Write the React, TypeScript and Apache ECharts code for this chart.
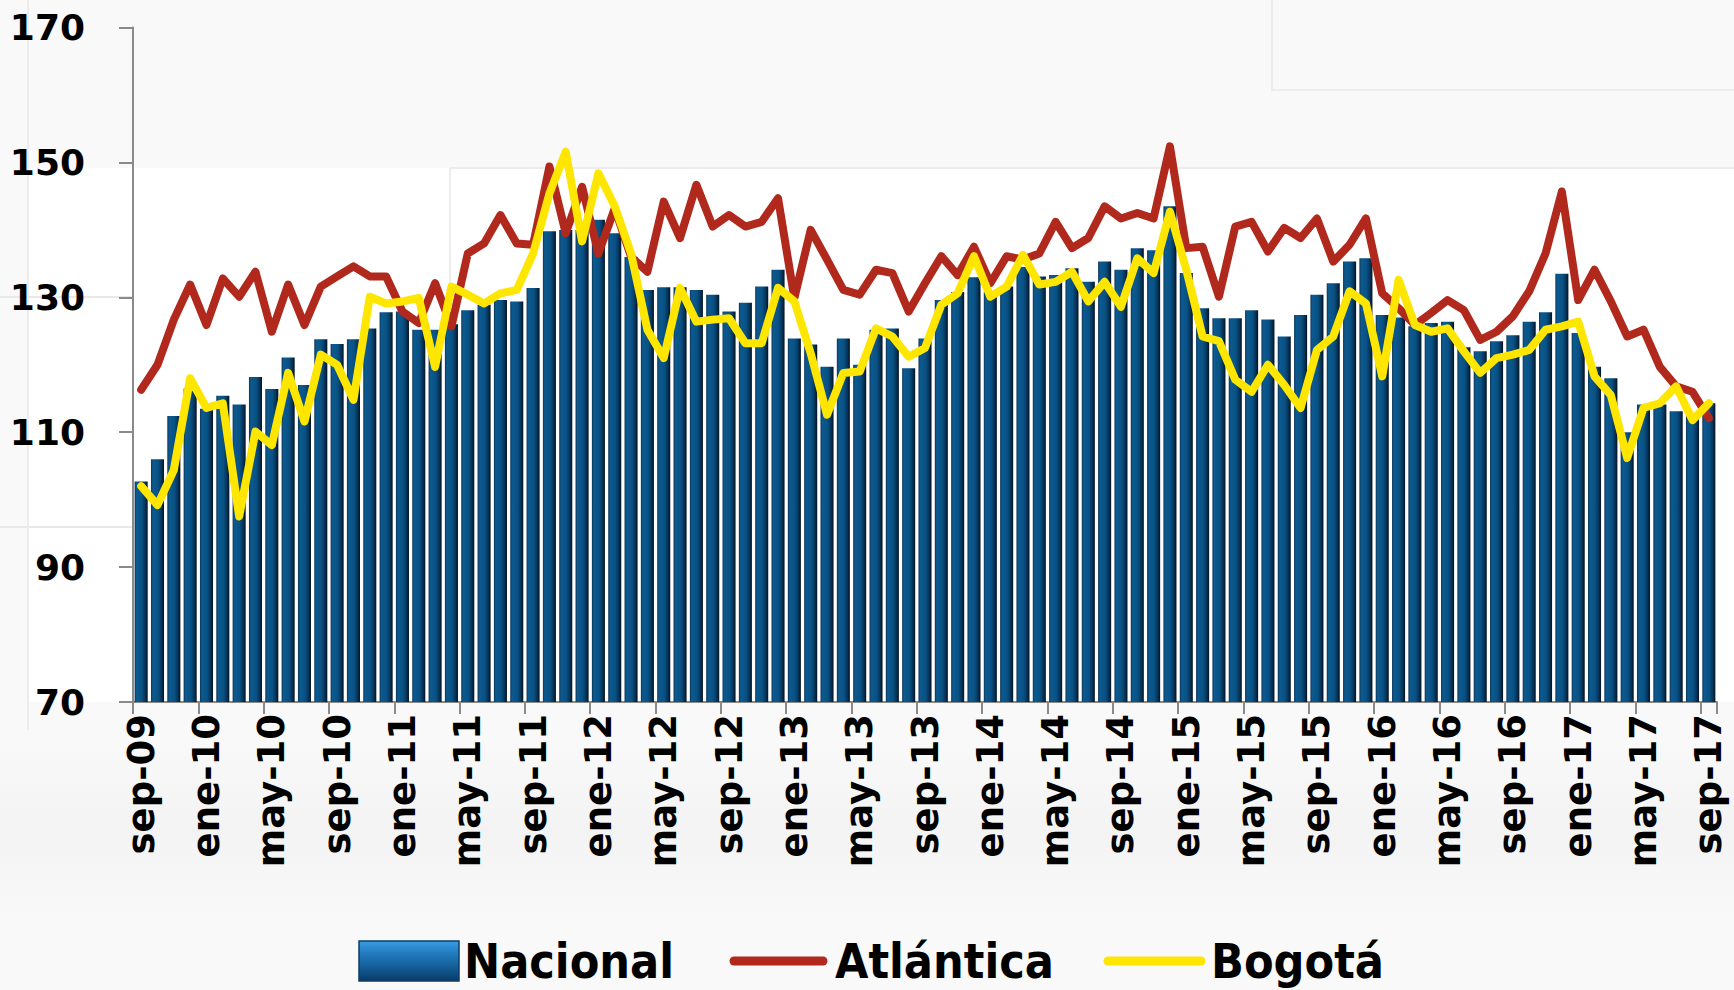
import React, { useEffect, useRef } from "react";
import * as echarts from "echarts";

const categories = [
  "sep-09","oct-09","nov-09","dic-09",
  "ene-10","feb-10","mar-10","abr-10","may-10","jun-10","jul-10","ago-10","sep-10","oct-10","nov-10","dic-10",
  "ene-11","feb-11","mar-11","abr-11","may-11","jun-11","jul-11","ago-11","sep-11","oct-11","nov-11","dic-11",
  "ene-12","feb-12","mar-12","abr-12","may-12","jun-12","jul-12","ago-12","sep-12","oct-12","nov-12","dic-12",
  "ene-13","feb-13","mar-13","abr-13","may-13","jun-13","jul-13","ago-13","sep-13","oct-13","nov-13","dic-13",
  "ene-14","feb-14","mar-14","abr-14","may-14","jun-14","jul-14","ago-14","sep-14","oct-14","nov-14","dic-14",
  "ene-15","feb-15","mar-15","abr-15","may-15","jun-15","jul-15","ago-15","sep-15","oct-15","nov-15","dic-15",
  "ene-16","feb-16","mar-16","abr-16","may-16","jun-16","jul-16","ago-16","sep-16","oct-16","nov-16","dic-16",
  "ene-17","feb-17","mar-17","abr-17","may-17","jun-17","jul-17","ago-17","sep-17",
];

const nacional = [
  102.7, 106.0, 112.4, 116.5, 113.5, 115.4, 114.1, 118.2, 116.4, 121.1, 117.0, 123.8, 123.1, 123.8, 125.4, 127.8,
  127.9, 125.2, 125.2, 126.0, 128.1, 128.9, 129.6, 129.4, 131.4, 139.8, 140.0, 140.0, 141.5, 139.5, 136.0, 131.1,
  131.5, 131.5, 131.1, 130.4, 127.9, 129.2, 131.6, 134.1, 123.9, 123.0, 119.7, 123.9, 120.0, 125.2, 125.4, 119.5,
  123.9, 129.6, 130.8, 133.0, 130.8, 131.6, 134.5, 133.1, 133.3, 134.3, 132.3, 135.3, 134.1, 137.3, 137.0, 143.5,
  133.6, 128.4, 126.9, 126.9, 128.1, 126.7, 124.2, 127.4, 130.4, 132.1, 135.3, 135.8, 127.4, 127.0, 125.7, 126.2,
  126.4, 122.6, 122.0, 123.5, 124.4, 126.4, 127.8, 133.5, 124.7, 119.7, 118.0, 110.0, 114.1, 114.1, 113.1, 112.8, 114.3,
];

const atlantica = [
  116.3, 120.0, 126.7, 131.9, 125.9, 132.8, 130.1, 133.8, 124.9, 131.9, 125.9, 131.6, 133.1, 134.6, 133.1, 133.1,
  127.9, 126.2, 132.1, 125.7, 136.5, 138.0, 142.2, 138.0, 137.8, 149.4, 139.5, 146.4, 136.5, 143.2, 136.0, 133.8,
  144.2, 138.8, 146.7, 140.5, 142.2, 140.5, 141.2, 144.7, 129.9, 140.0, 135.6, 131.1, 130.4, 134.1, 133.6, 127.9,
  132.1, 136.1, 133.3, 137.5, 132.1, 136.1, 135.6, 136.5, 141.2, 137.3, 138.8, 143.5, 141.7, 142.5, 141.7, 152.4,
  137.3, 137.5, 130.1, 140.5, 141.2, 136.8, 140.3, 138.8, 141.7, 135.3, 137.8, 141.7, 130.6, 128.4, 125.9, 127.7,
  129.6, 128.1, 123.7, 124.9, 127.2, 130.9, 136.5, 145.7, 129.6, 134.1, 129.4, 124.2, 125.2, 119.7, 116.8, 116.0, 112.1,
];

const bogota = [
  102.0, 99.2, 104.4, 118.0, 113.6, 114.3, 97.5, 110.1, 108.1, 118.8, 111.6, 121.5, 120.0, 114.8, 130.1, 129.1,
  129.4, 129.9, 119.7, 131.6, 130.4, 129.1, 130.6, 131.1, 136.5, 145.4, 151.6, 138.3, 148.4, 143.5, 136.5, 125.2,
  121.0, 131.4, 126.4, 126.7, 126.9, 123.2, 123.2, 131.4, 129.4, 121.7, 112.6, 118.8, 119.0, 125.4, 124.2, 121.2,
  122.5, 128.9, 130.6, 136.1, 130.1, 131.6, 136.3, 131.9, 132.3, 133.8, 129.4, 132.3, 128.6, 135.8, 133.6, 142.7,
  134.1, 124.2, 123.5, 117.8, 116.0, 120.0, 117.0, 113.6, 122.2, 124.2, 130.9, 129.1, 118.3, 132.6, 125.9, 124.9,
  125.4, 122.0, 118.8, 121.0, 121.5, 122.2, 125.2, 125.7, 126.4, 118.3, 115.5, 106.2, 113.6, 114.3, 116.8, 111.8, 114.3,
];

const seriesNames = ["Nacional", "Atlántica", "Bogotá"];
const yMin = 70;
const yMax = 170;
const yStep = 20;

const RED = "#b0291c";
const YELLOW = "#ffe600";

export default function App() {
  const ref = useRef<HTMLDivElement>(null);

  useEffect(() => {
    document.body.style.margin = "0";
    document.body.style.background = "#f9f9f9";
    if (!ref.current) return;
    const chart = echarts.init(ref.current, null, { renderer: "svg" });

    const barGradient = new echarts.graphic.LinearGradient(0, 0, 1, 0, [
      { offset: 0, color: "#0f3556" },
      { offset: 0.15, color: "#0b5a8f" },
      { offset: 0.55, color: "#095184" },
      { offset: 0.8, color: "#07355a" },
      { offset: 1, color: "#02121f" },
    ]);
    const legendGradient = new echarts.graphic.LinearGradient(0, 0, 0, 1, [
      { offset: 0, color: "#3a9ee2" },
      { offset: 0.2, color: "#2a86cc" },
      { offset: 0.5, color: "#1a6aa8" },
      { offset: 0.8, color: "#0f4f85" },
      { offset: 1, color: "#0a3a66" },
    ]);
    const bandGradient = new echarts.graphic.LinearGradient(0, 0, 0, 1, [
      { offset: 0, color: "#f9f9f9" },
      { offset: 0.5, color: "#f3f3f3" },
      { offset: 1, color: "#f9f9f9" },
    ]);

    const axisGray = "#8a8a8a";
    const legendFont = {
      fontFamily: "DejaVu Sans Condensed, DejaVu Sans",
      fontWeight: "bold",
      fontSize: 48,
      fill: "#000000",
    };
    const legendY = 961;

    chart.setOption({
      animation: false,
      backgroundColor: "transparent",
      graphic: [
        { type: "rect", z: -10, silent: true, shape: { x: 28, y: 168, width: 1706, height: 534 }, style: { fill: "#ffffff" } },
        { type: "rect", z: -10, silent: true, shape: { x: 0, y: 740, width: 1734, height: 180 }, style: { fill: bandGradient } },
        { type: "line", z: -9, silent: true, shape: { x1: 450, y1: 168, x2: 1734, y2: 168 }, style: { stroke: "#ececec", lineWidth: 2 } },
        { type: "line", z: -9, silent: true, shape: { x1: 450, y1: 168, x2: 450, y2: 700 }, style: { stroke: "#ececec", lineWidth: 2 } },
        { type: "rect", z: -9, silent: true, shape: { x: 1272, y: -10, width: 480, height: 100 }, style: { fill: "none", stroke: "#ececec", lineWidth: 2 } },
        { type: "line", z: -9, silent: true, shape: { x1: 0, y1: 297, x2: 133, y2: 297 }, style: { stroke: "#e8e8e8", lineWidth: 2 } },
        { type: "line", z: -9, silent: true, shape: { x1: 0, y1: 527, x2: 133, y2: 527 }, style: { stroke: "#e8e8e8", lineWidth: 2 } },
        { type: "line", z: -9, silent: true, shape: { x1: 28, y1: 0, x2: 28, y2: 730 }, style: { stroke: "#ececec", lineWidth: 2 } },
        // legend
        { type: "rect", z: 50, silent: true, shape: { x: 359, y: legendY - 20, width: 100, height: 40 }, style: { fill: legendGradient, stroke: "#0b3d6a", lineWidth: 1.5 } },
        { type: "text", z: 50, silent: true, x: 464, y: legendY, style: { ...legendFont, text: seriesNames[0], textVerticalAlign: "middle", textAlign: "left" } },
        { type: "line", z: 50, silent: true, shape: { x1: 734, y1: legendY, x2: 823, y2: legendY }, style: { stroke: RED, lineWidth: 9, lineCap: "round" } },
        { type: "text", z: 50, silent: true, x: 835, y: legendY, style: { ...legendFont, text: seriesNames[1], textVerticalAlign: "middle", textAlign: "left" } },
        { type: "line", z: 50, silent: true, shape: { x1: 1108, y1: legendY, x2: 1201, y2: legendY }, style: { stroke: YELLOW, lineWidth: 9, lineCap: "round" } },
        { type: "text", z: 50, silent: true, x: 1211, y: legendY, style: { ...legendFont, text: seriesNames[2], textVerticalAlign: "middle", textAlign: "left" } },
      ],
      grid: { left: 133, right: 17, top: 27.6, bottom: 288, containLabel: false },
      xAxis: {
        type: "category",
        data: categories,
        boundaryGap: true,
        axisLine: { show: true, lineStyle: { color: axisGray, width: 2 } },
        axisTick: { show: true, interval: 3, length: 12, alignWithLabel: false, lineStyle: { color: axisGray, width: 2 } },
        axisLabel: {
          interval: 3,
          rotate: 90,
          margin: 12,
          fontFamily: "DejaVu Sans",
          fontWeight: "bold",
          fontSize: 37,
          color: "#000000",
        },
        splitLine: { show: false },
      },
      yAxis: {
        type: "value",
        min: yMin,
        max: yMax,
        interval: yStep,
        axisLine: { show: true, lineStyle: { color: axisGray, width: 2 } },
        axisTick: { show: true, length: 14, lineStyle: { color: axisGray, width: 2 } },
        axisLabel: {
          margin: 48,
          fontFamily: "DejaVu Sans",
          fontWeight: "bold",
          fontSize: 36,
          color: "#000000",
        },
        splitLine: { show: false },
      },
      series: [
        {
          name: seriesNames[0],
          type: "bar",
          data: nacional,
          barCategoryGap: "20%",
          itemStyle: { color: barGradient },
          z: 2,
        },
        {
          name: seriesNames[1],
          type: "line",
          data: atlantica,
          symbol: "none",
          color: RED,
          lineStyle: { color: RED, width: 8, join: "round", cap: "round" },
          z: 3,
        },
        {
          name: seriesNames[2],
          type: "line",
          data: bogota,
          symbol: "none",
          color: YELLOW,
          lineStyle: { color: YELLOW, width: 8, join: "round", cap: "round" },
          z: 4,
        },
      ],
    });

    return () => chart.dispose();
  }, []);

  return <div ref={ref} style={{ width: 1734, height: 990 }} />;
}
